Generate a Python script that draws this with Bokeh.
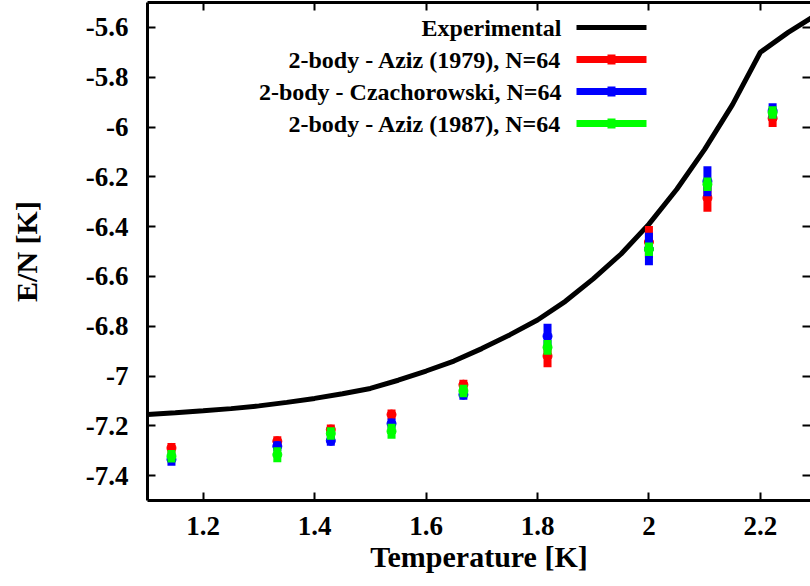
from bokeh.plotting import figure
from bokeh.models import LinearAxis, FixedTicker, Label, BoxAnnotation, CustomJSTickFormatter
from bokeh.embed import file_html
from bokeh.resources import INLINE

# ---- data ----
exp_T = [1.1, 1.15, 1.2, 1.25, 1.3, 1.35, 1.4, 1.45, 1.5, 1.55, 1.6, 1.65, 1.7, 1.75,
         1.8, 1.85, 1.9, 1.95, 2.0, 2.05, 2.1, 2.15, 2.2, 2.25, 2.3]
exp_E = [-7.155, -7.148, -7.14, -7.131, -7.12, -7.106, -7.09, -7.071, -7.05, -7.017,
         -6.98, -6.94, -6.89, -6.835, -6.775, -6.70, -6.61, -6.51, -6.39, -6.25,
         -6.09, -5.91, -5.70, -5.62, -5.55]

T = [1.143, 1.333, 1.429, 1.538, 1.667, 1.818, 2.0, 2.105, 2.222]
aziz79 = [-7.289, -7.262, -7.215, -7.155, -7.035, -6.92, -6.462, -6.285, -5.965]
aziz79_err = [0.02, 0.02, 0.02, 0.02, 0.02, 0.045, 0.064, 0.055, 0.035]
czach = [-7.335, -7.282, -7.26, -7.191, -7.075, -6.84, -6.49, -6.218, -5.935]
czach_err = [0.025, 0.02, 0.02, 0.02, 0.02, 0.05, 0.065, 0.06, 0.03]
aziz87 = [-7.322, -7.316, -7.231, -7.222, -7.06, -6.885, -6.491, -6.23, -5.942]
aziz87_err = [0.025, 0.03, 0.025, 0.03, 0.025, 0.03, 0.027, 0.027, 0.025]

x_ticks = [1.2, 1.4, 1.6, 1.8, 2.0, 2.2]
x_tick_labels = ["1.2", "1.4", "1.6", "1.8", "2", "2.2"]
y_ticks = [-7.4, -7.2, -7.0, -6.8, -6.6, -6.4, -6.2, -6.0, -5.8, -5.6]
y_tick_labels = ["-7.4", "-7.2", "-7", "-6.8", "-6.6", "-6.4", "-6.2", "-6", "-5.8", "-5.6"]

series_names = ["Experimental", "2-body - Aziz (1979), N=64",
                "2-body - Czachorowski, N=64", "2-body - Aziz (1987), N=64"]
series_colors = ["#000000", "#ff0000", "#0000ff", "#00ff00"]

FONT = "Liberation Serif"

p = figure(width=810, height=586, x_range=(1.1, 2.29), y_range=(-7.5, -5.5),
           output_backend="svg", toolbar_location=None,
           min_border_left=147, min_border_right=0, min_border_top=2, min_border_bottom=86)
p.outline_line_color = None
p.xgrid.visible = False
p.ygrid.visible = False
p.background_fill_color = "white"
p.border_fill_color = "white"

def style_axis(ax, ticks, labels=None, show_line=True):
    ax.ticker = FixedTicker(ticks=ticks)
    ax.major_tick_in = 8
    ax.major_tick_out = 0
    ax.major_tick_line_width = 2
    ax.major_tick_line_color = "black"
    ax.minor_tick_line_color = None
    ax.axis_line_width = 3 if show_line else 0
    ax.axis_line_color = "black" if show_line else None
    ax.major_label_text_font = FONT
    ax.major_label_text_font_style = "bold"
    ax.major_label_text_color = "black"
    ax.axis_label_text_color = "black"
    if labels is not None:
        ax.major_label_overrides = {t: l for t, l in zip(ticks, labels)}

xa = p.xaxis[0]
style_axis(xa, x_ticks, x_tick_labels)
xa.major_label_text_font_size = "27px"
xa.major_label_standoff = 16
xa.axis_label = "Temperature [K]"
xa.axis_label_text_font = FONT
xa.axis_label_text_font_style = "bold"
xa.axis_label_text_font_size = "30px"
xa.axis_label_standoff = 2

ya = p.yaxis[0]
style_axis(ya, y_ticks, y_tick_labels)
ya.major_label_text_font_size = "27px"
ya.major_label_standoff = 19
ya.axis_label = "E/N [K]"
ya.axis_label_text_font = FONT
ya.axis_label_text_font_style = "bold"
ya.axis_label_text_font_size = "30px"
ya.axis_label_standoff = 40

blank = CustomJSTickFormatter(code="return ''")
top = LinearAxis(formatter=blank)
style_axis(top, x_ticks)
top.major_label_text_font_size = "0px"
top.major_label_standoff = 0
p.add_layout(top, "above")

right = LinearAxis(formatter=blank)
style_axis(right, y_ticks, show_line=False)
right.major_label_text_font_size = "0px"
right.major_label_standoff = 0
p.add_layout(right, "right")

# experimental curve
p.line(exp_T, exp_E, line_color=series_colors[0], line_width=5)

# error bars with points
for vals, errs, col in [(aziz79, aziz79_err, series_colors[1]),
                        (czach, czach_err, series_colors[2]),
                        (aziz87, aziz87_err, series_colors[3])]:
    lo = [v - e for v, e in zip(vals, errs)]
    hi = [v + e for v, e in zip(vals, errs)]
    p.segment(x0=T, y0=lo, x1=T, y1=hi, line_color=col, line_width=8)
    p.scatter(T, vals, marker="circle", size=9, fill_color=col, line_color=col)

# key (gnuplot-style: right-aligned label, sample on its right), frame-relative screen units
key_text_right = 414
key_sample_left = 429
key_sample_right = 499
row_y = [473, 441, 409, 377]
sample_h = [5, 7, 7, 7]
for i, (name, col, yy, h) in enumerate(zip(series_names, series_colors, row_y, sample_h)):
    p.add_layout(Label(x=key_text_right, y=yy, x_units="screen", y_units="screen",
                       text=name, text_align="right", text_baseline="middle",
                       text_font=FONT, text_font_style="bold", text_font_size="24px",
                       text_color="black"))
    p.add_layout(BoxAnnotation(left=key_sample_left, right=key_sample_right,
                               bottom=yy - h / 2, top=yy + h / 2,
                               left_units="screen", right_units="screen",
                               bottom_units="screen", top_units="screen",
                               fill_color=col, fill_alpha=1.0, line_color=None))
    if i > 0:
        mid = (key_sample_left + key_sample_right) / 2
        p.add_layout(BoxAnnotation(left=mid - 4, right=mid + 4,
                                   bottom=yy - 5, top=yy + 5,
                                   left_units="screen", right_units="screen",
                                   bottom_units="screen", top_units="screen",
                                   fill_color=col, fill_alpha=1.0, line_color=None))

open("out.html", "w").write(file_html(p, INLINE))
